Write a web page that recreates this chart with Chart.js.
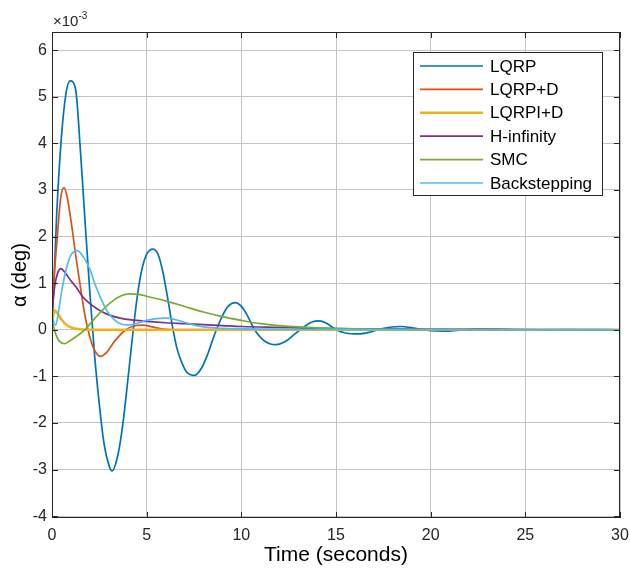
<!DOCTYPE html>
<html lang="en">
<head>
    <meta charset="UTF-8">
    <title>Alpha response</title>
    <script src="https://cdn.jsdelivr.net/npm/chart.js"></script>
    <style>
        body { margin: 0; background: #fff; }
        #wrap { width: 630px; height: 576px; }
    </style>
</head>
<body>
    <div id="wrap"><canvas id="alphaChart" width="630" height="576"></canvas></div>

    <script>
        // values in units of 1e-3 deg
        const seriesNames = ['LQRP', 'LQRP+D', 'LQRPI+D', 'H-infinity', 'SMC', 'Backstepping'];
        const seriesColors = ['#0072BD', '#D95319', '#EDB120', '#7E2F8E', '#77AC30', '#4DBEEE'];

        const lqrpT = [0, 0.25, 0.5, 0.75, 0.96, 1.25, 1.5, 1.75, 2.0, 2.25, 2.5, 2.75, 3.0, 3.17, 3.5, 3.75, 4.0, 4.25, 4.5, 4.75, 5.0, 5.33, 5.6, 5.85, 6.1, 6.35, 6.6, 6.85, 7.1, 7.53, 7.9, 8.2, 8.5, 8.75, 9.0, 9.3, 9.68, 10.0, 10.3, 10.7, 11.1, 11.5, 11.85, 12.3, 12.8, 13.3, 13.7, 14.1, 14.5, 15.0, 15.5, 16.2, 16.8, 17.4, 18.4, 19.2, 20.0, 20.7, 21.5, 22.5, 23.5, 25, 27, 30];
        const lqrpV = [0, 2.5, 4.15, 5.1, 5.34, 5.15, 3.85, 2.3, 0.8, -0.55, -1.6, -2.45, -2.9, -3.03, -2.65, -2.0, -1.1, -0.15, 0.7, 1.3, 1.62, 1.73, 1.62, 1.25, 0.7, 0.1, -0.4, -0.7, -0.9, -0.98, -0.82, -0.55, -0.2, 0.07, 0.3, 0.5, 0.58, 0.5, 0.32, 0.0, -0.2, -0.3, -0.32, -0.26, -0.1, 0.06, 0.16, 0.19, 0.14, 0.0, -0.07, -0.09, -0.05, 0.02, 0.07, 0.03, -0.02, -0.03, -0.01, 0.015, 0.01, -0.005, 0.003, 0];

        const lqrpdT = [0, 0.1, 0.28, 0.45, 0.63, 0.8, 1.0, 1.12, 1.25, 1.47, 1.7, 1.9, 2.2, 2.56, 2.9, 3.3, 3.9, 4.3, 4.8, 5.3, 5.8, 6.5, 8, 30];
        const lqrpdV = [0.1, 1.0, 2.0, 2.8, 3.05, 2.85, 2.35, 2.0, 1.6, 1.0, 0.4, 0, -0.4, -0.57, -0.48, -0.25, 0.0, 0.08, 0.1, 0.06, 0.02, 0, 0, 0];

        const lqrpidT = [0, 0.16, 0.3, 0.5, 0.75, 1.0, 1.3, 1.6, 2.0, 30];
        const lqrpidV = [0.2, 0.41, 0.35, 0.22, 0.11, 0.05, 0.02, 0.005, 0, 0];

        const hinfT = [0, 0.15, 0.3, 0.47, 0.7, 1.0, 1.3, 1.6, 2.0, 2.5, 3.0, 3.6, 4.2, 5, 6, 7, 8, 9, 10, 12, 14, 16, 20, 25, 30];
        const hinfV = [0.4, 0.95, 1.22, 1.31, 1.22, 1.05, 0.9, 0.72, 0.56, 0.42, 0.32, 0.25, 0.21, 0.18, 0.15, 0.13, 0.11, 0.09, 0.07, 0.05, 0.03, 0.02, 0.01, 0.005, 0];

        const smcT = [0, 0.2, 0.4, 0.68, 1.0, 1.5, 1.75, 2.0, 2.5, 3.0, 3.5, 4.1, 4.6, 5, 6, 7, 8, 9, 10, 11, 12, 13, 14, 16, 18, 20, 25, 30];
        const smcV = [0.2, -0.1, -0.25, -0.3, -0.22, -0.08, 0.01, 0.12, 0.35, 0.55, 0.7, 0.77, 0.76, 0.72, 0.62, 0.5, 0.38, 0.28, 0.2, 0.13, 0.09, 0.06, 0.04, 0.02, 0.01, 0.005, 0, 0];

        const backT = [0, 0.1, 0.2, 0.35, 0.5, 0.75, 1.0, 1.33, 1.6, 2.0, 2.25, 2.5, 2.75, 3.0, 3.5, 4.0, 4.5, 5.0, 5.5, 6.0, 6.5, 7.0, 7.5, 8.0, 9, 10, 12, 15, 20, 30];
        const backV = [0.35, 0.15, 0.1, 0.4, 0.8, 1.3, 1.6, 1.7, 1.6, 1.3, 1.0, 0.75, 0.52, 0.35, 0.15, 0.1, 0.14, 0.2, 0.24, 0.25, 0.22, 0.16, 0.1, 0.06, 0.03, 0.02, 0.01, 0.005, 0, 0];

        const xTicks = [0, 5, 10, 15, 20, 25, 30];
        const yTicks = [-4, -3, -2, -1, 0, 1, 2, 3, 4, 5, 6];

        const allT = [lqrpT, lqrpdT, lqrpidT, hinfT, smcT, backT];
        const allV = [lqrpV, lqrpdV, lqrpidV, hinfV, smcV, backV];

        const FONT = '"Liberation Sans", Arial, Helvetica, sans-serif';
        const INK = '#262626';

        const datasets = seriesNames.map((name, i) => ({
            label: name,
            data: allT[i].map((t, k) => ({ x: t, y: allV[i][k] })),
            borderColor: seriesColors[i],
            borderWidth: i === 2 ? 2.6 : 1.7,
            pointRadius: 0,
            cubicInterpolationMode: 'monotone',
            fill: false,
            order: seriesNames.length - i
        }));

        // box, inner ticks, exponent and legend like the original figure
        const matlabLook = {
            id: 'matlabLook',
            afterDraw(chart) {
                const ctx = chart.ctx;
                const a = chart.chartArea;
                const xs = chart.scales.x, ys = chart.scales.y;
                ctx.save();
                ctx.strokeStyle = INK;
                ctx.lineWidth = 1;
                ctx.strokeRect(a.left + 0.5, a.top + 0.5, a.right - a.left - 1, a.bottom - a.top - 1);
                ctx.beginPath();
                xTicks.forEach(v => {
                    const px = Math.round(xs.getPixelForValue(v)) + 0.5;
                    ctx.moveTo(px, a.bottom); ctx.lineTo(px, a.bottom - 6);
                    ctx.moveTo(px, a.top); ctx.lineTo(px, a.top + 6);
                });
                yTicks.forEach(v => {
                    const py = Math.round(ys.getPixelForValue(v)) + 0.5;
                    ctx.moveTo(a.left, py); ctx.lineTo(a.left + 6, py);
                    ctx.moveTo(a.right, py); ctx.lineTo(a.right - 6, py);
                });
                ctx.stroke();

                // x10^-3
                ctx.fillStyle = INK;
                ctx.textBaseline = 'alphabetic';
                ctx.textAlign = 'left';
                ctx.font = '15px ' + FONT;
                ctx.fillText('\u00d710', 53, 26);
                const w = ctx.measureText('\u00d710').width;
                ctx.font = '10px ' + FONT;
                ctx.fillText('-3', 53 + w, 19);

                // legend
                const lx = 413.5, ly = 52.5, lw = 189, lh = 143;
                ctx.fillStyle = '#fff';
                ctx.fillRect(lx, ly, lw, lh);
                ctx.strokeStyle = INK;
                ctx.strokeRect(lx, ly, lw, lh);
                ctx.font = '17px ' + FONT;
                ctx.textBaseline = 'middle';
                chart.data.datasets.forEach((ds, i) => {
                    const yy = 66 + i * 23.4;
                    ctx.strokeStyle = ds.borderColor;
                    ctx.lineWidth = ds.borderWidth;
                    ctx.beginPath();
                    ctx.moveTo(420, yy); ctx.lineTo(483, yy);
                    ctx.stroke();
                    ctx.fillStyle = '#000';
                    ctx.fillText(ds.label, 490, yy + 1);
                });
                ctx.restore();
            }
        };

        new Chart(document.getElementById('alphaChart'), {
            type: 'line',
            data: { datasets },
            options: {
                responsive: false,
                animation: false,
                events: [],
                layout: { padding: { top: 32, right: 0, left: 0, bottom: 0 } },
                plugins: { legend: { display: false }, tooltip: { enabled: false } },
                scales: {
                    x: {
                        type: 'linear',
                        min: 0, max: 30,
                        afterFit: s => { s.height = 58; s.paddingRight = 10; },
                        afterBuildTicks: s => { s.ticks = xTicks.map(v => ({ value: v })); },
                        grid: { color: '#c4c4c4', drawTicks: false },
                        border: { display: false },
                        ticks: { color: INK, padding: 8, maxRotation: 0, font: { family: FONT, size: 16 } },
                        title: {
                            display: true, text: 'Time (seconds)', color: '#000',
                            font: { family: FONT, size: 21 }, padding: { top: 0, bottom: 8 }
                        }
                    },
                    y: {
                        type: 'linear',
                        min: -4.04, max: 6.39,
                        afterFit: s => { s.width = 52; },
                        afterBuildTicks: s => { s.ticks = yTicks.map(v => ({ value: v })); },
                        grid: { color: '#c4c4c4', drawTicks: false },
                        border: { display: false },
                        ticks: { color: INK, padding: 5, font: { family: FONT, size: 16 } },
                        title: {
                            display: true, text: '\u03b1 (deg)', color: '#000',
                            font: { family: FONT, size: 20 }, padding: { top: 8, bottom: 0 }
                        }
                    }
                }
            },
            plugins: [matlabLook]
        });
    </script>
</body>
</html>
